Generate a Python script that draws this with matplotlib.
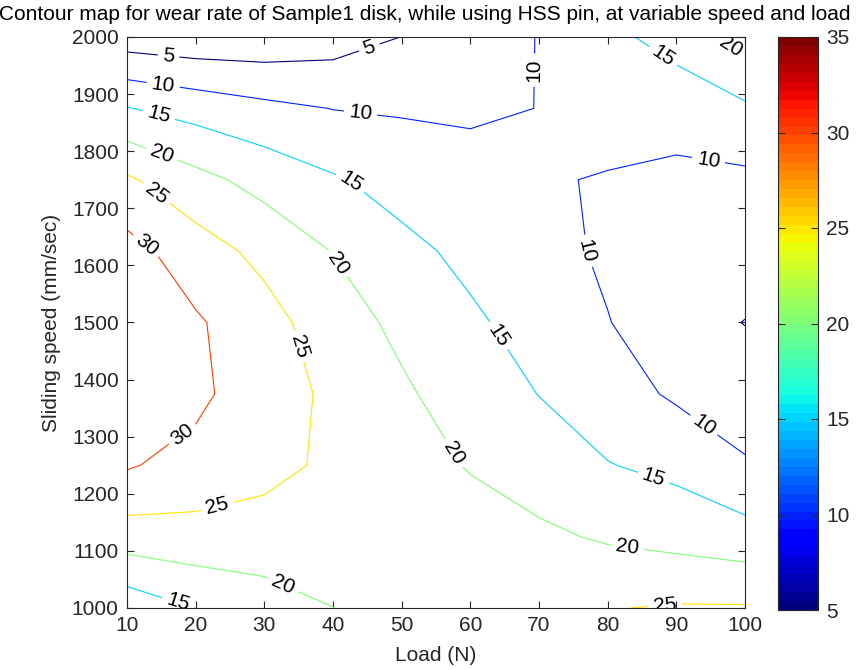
import numpy as np
import matplotlib
matplotlib.use('Agg')
import matplotlib.pyplot as plt
from matplotlib import cm, colors

plt.rcParams['font.family'] = ['Liberation Sans', 'DejaVu Sans']
plt.rcParams['font.size'] = 15

# measurement grid: load (N) across, sliding speed (mm/sec) down
load = [10, 20, 30, 40, 50, 60, 70, 80, 90, 100]
speed = [1000, 1125, 1250, 1375, 1500, 1625, 1750, 1875, 2000]

# wear rate at each load, one list per sliding speed
wear_1000 = [11.7, 15.05, 16.86, 19.95, 22.0, 23.0, 23.8, 24.8, 25.4, 25.4]
wear_1125 = [22.7, 23.4, 24.0, 24.0, 23.0, 22.0, 20.9, 19.4, 18.3, 17.0]
wear_1250 = [30.5, 27.95, 25.71, 24.56, 21.9, 19.7, 17.5, 15.2, 13.7, 10.35]
wear_1375 = [33.0, 31.5, 26.1, 24.55, 20.7, 17.7, 14.9, 12.1, 9.3, 8.0]
wear_1500 = [33.0, 30.6, 26.9, 22.2, 18.9, 15.74, 13.2, 10.15, 7.5, 4.85]
wear_1625 = [31.8, 27.3, 23.6, 19.85, 16.24, 13.85, 11.6, 9.3, 7.5, 8.0]
wear_1750 = [25.7, 21.5, 18.27, 15.5, 13.2, 11.5, 10.2, 9.85, 9.2, 9.0]
wear_1875 = [15.2, 13.05, 11.2, 9.9, 9.5, 9.4, 10.05, 11.0, 11.5, 14.2]
wear_2000 = [2.3, 1.5, 1.6, 2.7, 5.05, 6.9, 10.2, 13.5, 17.25, 22.0]

levels = [5, 10, 15, 20, 25, 30, 35]

# where the contour values get written
label_pos = [
    (16.0, 1960), (45.5, 1974),
    (15.2, 1910), (43.9, 1855), (69.4, 1942), (94.6, 1778), (76.3, 1623), (93.4, 1310),
    (14.5, 1858), (42.2, 1740), (63.6, 1473), (86.2, 1212), (87.3, 1953), (17.4, 1008),
    (14.8, 1788), (40.0, 1598), (56.6, 1264), (82.8, 1100), (32.6, 1036), (97.4, 1975),
    (13.8, 1718), (34.2, 1455), (23.3, 1170), (88.3, 1004),
    (12.3, 1627), (18.3, 1300),
]

wear = np.array([wear_1000, wear_1125, wear_1250, wear_1375, wear_1500,
                 wear_1625, wear_1750, wear_1875, wear_2000])

cmap = plt.get_cmap('jet', 64)
norm = colors.Normalize(vmin=5, vmax=35)
dark = '0.15'

fig = plt.figure(figsize=(8.56, 6.70), dpi=100)
ax = fig.add_axes([127 / 856, 62 / 670, 618 / 856, 571 / 670])

cs = ax.contour(load, speed, wear, levels=levels, cmap=cmap, norm=norm, linewidths=0.8)
texts = ax.clabel(cs, manual=label_pos, inline=True, fmt='%d', fontsize=15, colors='k')
for t in texts:
    t.set_clip_on(True)

ax.set_xlim(10, 100)
ax.set_ylim(1000, 2000)
ax.set_xticks(range(10, 101, 10))
ax.set_yticks(range(1000, 2001, 100))
ax.tick_params(direction='in', top=True, right=True, length=5, width=0.8,
               color=dark, labelcolor=dark, pad=6)
for s in ax.spines.values():
    s.set_color(dark)
    s.set_linewidth(0.8)

ax.set_xlabel('Load (N)', color=dark, labelpad=8)
ax.set_ylabel('Sliding speed (mm/sec)', color=dark, labelpad=8)

fig.text(425 / 856, 1 - 15 / 670,
         'Contour map for wear rate of Sample1 disk, while using HSS pin, at variable speed and load',
         ha='center', va='center', fontsize=15, color='k')

cax = fig.add_axes([778 / 856, 60 / 670, 40 / 856, 573 / 670])
cb = fig.colorbar(cm.ScalarMappable(norm=norm, cmap=cmap), cax=cax, ticks=levels)
cb.outline.set_edgecolor(dark)
cb.outline.set_linewidth(0.8)
cax.tick_params(direction='in', left=True, right=True, length=5, width=0.8,
                color=dark, labelcolor=dark, pad=6)

fig.savefig('out.png', dpi=100)
